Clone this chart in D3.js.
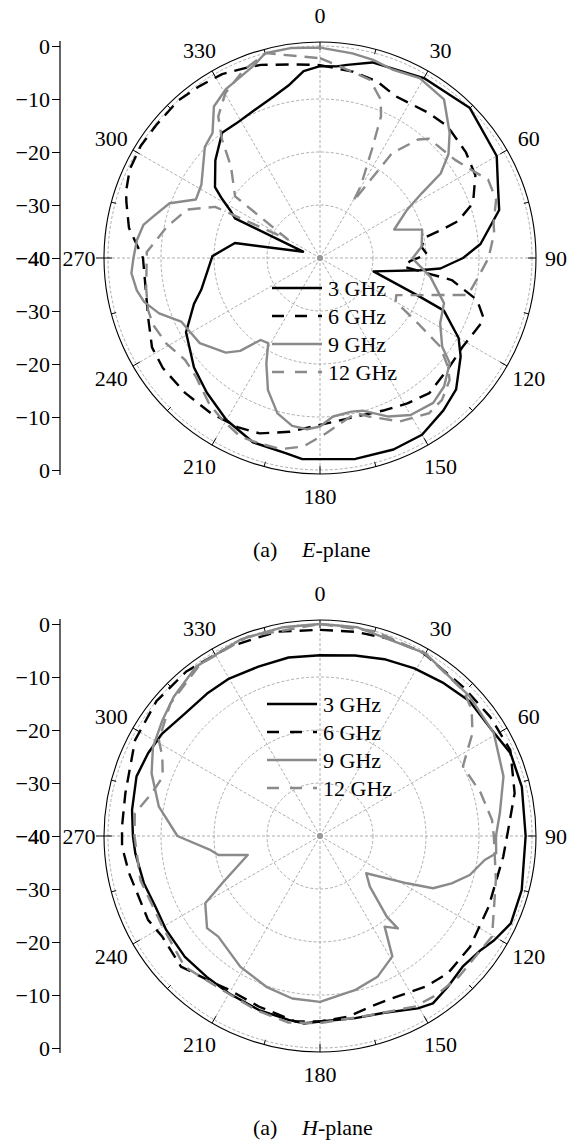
<!DOCTYPE html>
<html>
<head>
<meta charset="utf-8">
<script src="https://cdn.jsdelivr.net/npm/d3@7"></script>
<style>
  body { margin: 0; background: #fff; }
  text { font-family: "Liberation Serif", "Times New Roman", serif; }
</style>
</head>
<body>
<div class="chart"></div>
<script>
// radiation patterns, [angle (deg), gain (dB)]

// E-plane
var e3 = [[0,-3.8],[5,-3.7],[8,-3.2],[15,-1.8],[30,-0.8],[45,0],[60,-1.5],[69,-4],[75,-5],[85,-9.6],[90,-13],[95,-17.2],[97,-21],[104,-29.6],[111,-20.2],[113,-14.6],[120,-9.8],[125,-7.6],[134,-4.3],[141,-3],[150,-1.5],[159,-1.3],[170,-1.5],[185,-1.9],[190,-2.6],[200,-3],[210,-4.7],[220,-6.8],[229,-8.5],[241,-11.1],[250,-14.7],[255,-16.8],[271,-19.7],[280,-23.7],[290.5,-36.6],[295,-22.3],[298,-20.8],[301,-18.5],[304,-16.1],[313,-13],[322,-10],[328,-10.1],[336,-9.5],[344,-8.3],[350,-6.8],[355,-4.6]];
var e6 = [[0,-3.6],[10,-4.3],[18,-5],[25,-6.3],[37,-5.8],[44,-5.4],[54,-6],[62,-6.8],[69,-9],[71,-10],[75,-13],[77,-16.5],[79,-20],[84,-20.7],[88,-19.8],[92,-23],[96,-24],[99.5,-14.8],[105,-9.3],[110,-7.2],[112,-7.2],[122,-8.3],[130,-8.1],[141,-7.2],[149,-8],[157,-8.8],[168,-9.3],[180,-8.5],[190,-6.7],[199,-5],[206,-4.5],[215,-4.2],[225,-4],[235,-3.8],[242,-4.1],[251,-5.7],[260,-6.6],[270,-6.6],[279,-3.5],[286,-2],[289,-1.3],[295,-0.4],[302,-0.1],[309,-0.2],[318,0],[325,-0.4],[332,-0.7],[340,-1.6],[343,-1.9],[353,-3.2]];
var e9 = [[0,-0.3],[9,-0.9],[15,-1.3],[21,-1.9],[29,-1.2],[38,-2],[46,-6],[51,-8.8],[55,-12.2],[57.5,-17.2],[61,-21.2],[69,-25],[74.5,-20],[83.5,-20.7],[90,-22.5],[92,-22],[99.6,-18.9],[110,-15.1],[118.5,-14.2],[126,-11.5],[129,-8.5],[136,-6.3],[142,-5.3],[150,-5.8],[156.6,-7.4],[164.4,-10.1],[168.4,-10.4],[175.3,-10],[180,-8.2],[184.3,-7.6],[189.4,-7.9],[195.3,-9.6],[201.5,-13.2],[207,-17.7],[211.3,-21.2],[215.9,-20.9],[220.7,-16.9],[224.9,-14.8],[234.7,-12.2],[241.3,-11.7],[245.4,-11.2],[251,-7.9],[256,-5.8],[260,-4.9],[265.4,-4.3],[270,-4.8],[275.6,-5.3],[280.6,-6.1],[284,-7.6],[290,-9.8],[295.2,-14.1],[301.7,-13.7],[314,-9.8],[319.3,-8.9],[325,-5.1],[331,-3.5],[341,-1.6],[345,0],[352,0]];
var e12 = [[0,-2.3],[9.6,-4.3],[15.7,-5.1],[21,-8],[23.3,-10.9],[25.6,-17.4],[29.6,-24.5],[30.4,-27.6],[34.5,-16],[39.6,-11],[42.5,-9.5],[54,-8.5],[60.6,-6.7],[65,-5],[71.7,-5],[78.7,-6.6],[81.8,-6.8],[90,-8.2],[96.7,-9.9],[104,-11.2],[116,-24],[120,-23.5],[123.7,-17.8],[126.4,-11.8],[130.4,-8.3],[133.3,-6.4],[139.3,-4.7],[144.9,-4.2],[154,-5.7],[162.5,-8.6],[167,-10],[178,-6.9],[185,-4.3],[191.5,-3.2],[198.2,-3.2],[204,-3.1],[211,-4.3],[217.4,-5.5],[226.3,-7.6],[232.9,-8.1],[241,-6.8],[248,-6.1],[253.2,-6.1],[260,-6.7],[272,-7.3],[281.5,-10.5],[290,-13.3],[296,-18],[300,-33],[306,-20.2],[315.8,-15.9],[320.4,-11],[324.3,-7.1],[330.2,-4.1],[338,-1.7],[345.3,0],[349,-0.9]];

// H-plane
var h3 = [[0,-5.9],[11,-5.3],[20,-4.5],[29.4,-3.7],[39,-2.9],[48,-2],[58.4,-1.9],[66.5,-0.8],[76.3,-0.8],[90,-1.2],[105,-0.6],[114.6,-0.4],[120.9,-1.7],[125.3,-2.8],[132.5,-3.5],[139.7,-2.7],[146,-1.9],[150.4,-2.6],[160,-4.5],[169,-5],[180,-5],[185,-4.5],[189.7,-4.8],[199.3,-5.2],[210,-5.7],[218.8,-5.9],[228.2,-5.8],[238.6,-6],[246.8,-6.2],[255,-5.6],[264.6,-5],[270,-4.7],[277.9,-4.2],[288,-3.6],[295.7,-4],[303,-4.5],[312.3,-5.6],[321.6,-5.7],[330,-5.7],[340,-6],[350,-5.8]];
var h6 = [[0,-1.1],[9.7,-0.9],[19,-0.6],[29,-0.3],[44,-1],[55,-0.8],[65.7,-0.6],[77.6,-2.4],[90,-4.7],[96.4,-5.2],[112.8,-5.5],[126.4,-4.8],[137,-4.6],[145,-5.3],[156,-6.5],[163.7,-6.4],[171.3,-5.5],[180,-5],[187.4,-4.7],[199.6,-5.8],[210.5,-6.3],[216.8,-5.7],[226.8,-4],[237.4,-4.7],[244,-3.9],[259,-3.3],[266.9,-2.6],[272.7,-2.6],[282.4,-2.4],[297.4,-0.7],[309.5,0],[320.9,0],[334.4,-0.4],[348,-0.6]];
var h9 = [[0,0],[10,0],[30,-0.2],[47,-1.4],[59.4,-1.9],[72,-3.6],[82.8,-5.8],[90,-6.8],[95.6,-6.6],[98.3,-8.6],[104.6,-10.8],[109.8,-13.6],[114.8,-16.5],[118.5,-21.3],[128.9,-28.8],[135.4,-26.6],[140.4,-20.2],[139.9,-17.2],[144.5,-19],[149,-13.5],[157.8,-11.3],[167,-10.2],[180,-8.7],[189.7,-8.9],[199.6,-9.8],[211.3,-11.1],[225.3,-13],[230.8,-12.5],[239.6,-14.9],[244.2,-19.5],[255.3,-25.9],[259.4,-20.5],[263,-19],[270,-13.1],[280.3,-9.1],[290.4,-6.1],[298,-4.3],[306.4,-3.1],[313.6,-1.9],[323.8,-0.4],[338,0],[350,0]];
var h12 = [[0,0],[15,0],[30,-0.3],[45,-1.5],[50.3,-2.8],[56,-5.3],[64,-10],[75,-8.6],[84.7,-7.4],[90,-7.2],[104,-5.8],[120.3,-2.4],[125.3,-2.8],[135.4,-2.7],[143.7,-2.8],[151,-3.2],[164.4,-4.9],[180,-4.7],[189.6,-4.3],[200,-5],[212.5,-5.6],[226,-4.5],[240,-5.7],[256.2,-5.1],[270,-5],[277,-4.8],[284,-7.2],[290.6,-8.3],[296.7,-6.7],[300.8,-4.6],[311.5,-2.3],[325,-0.5],[340,0]];

var freqLabels = ["3 GHz", "6 GHz", "9 GHz", "12 GHz"];
var angleTicks = [0, 30, 60, 90, 120, 150, 180, 210, 240, 270, 300, 330];
var dbTicks = [-40, -30, -20, -10, 0];
var planeNames = ["E", "H"];

var width = 581;
var height = 1141;
var cx = 320;
var rOuter = 216;
var font = "'Liberation Serif', 'Times New Roman', serif";
var fs = "22px";

var plots = [
  { cy: 258, series: [e3, e6, e9, e12], legendX: 272, legendY: 288, captionY: 557 },
  { cy: 836, series: [h3, h6, h9, h12], legendX: 267, legendY: 704, captionY: 1135 }
];

var lineStyles = [
  { color: "#000", dash: null },
  { color: "#000", dash: "13,8" },
  { color: "#8a8a8a", dash: null },
  { color: "#8a8a8a", dash: "13,8" }
];

var aScale = d3.scaleLinear().domain([0, 360]).range([0, 2 * Math.PI]);
var rScale = d3.scaleLinear().domain([-40, 0]).range([0, 212]);

var svg = d3.select(".chart")
            .append("svg")
            .attr("width", width)
            .attr("height", height)
            .style("font-family", font);

svg.append("rect").attr("width", width).attr("height", height).attr("fill", "#fff");

plots.forEach(function(p, pi) {
  var g = svg.append("g").attr("transform", "translate(" + cx + "," + p.cy + ")");

  // grid circles
  g.selectAll("circle.grid")
   .data(dbTicks.slice(1))
   .enter()
   .append("circle")
   .attr("r", d => rScale(d))
   .attr("fill", "none")
   .attr("stroke", "#999")
   .attr("stroke-width", 0.8)
   .attr("stroke-dasharray", "3,2");

  // spokes
  g.selectAll("line.spoke")
   .data(angleTicks)
   .enter()
   .append("line")
   .attr("x2", d => rScale(0) * Math.sin(aScale(d)))
   .attr("y2", d => -rScale(0) * Math.cos(aScale(d)))
   .attr("stroke", "#999")
   .attr("stroke-width", 0.8)
   .attr("stroke-dasharray", "3,2");

  // outer frame + ticks
  g.append("circle")
   .attr("r", rOuter)
   .attr("fill", "none")
   .attr("stroke", "#000")
   .attr("stroke-width", 1.1);

  var tickAngles = d3.range(0, 360, 15);
  g.selectAll("line.tick")
   .data(tickAngles)
   .enter()
   .append("line")
   .attr("x1", d => (d % 30 ? 211 : 208) * Math.sin(aScale(d)))
   .attr("y1", d => -(d % 30 ? 211 : 208) * Math.cos(aScale(d)))
   .attr("x2", d => (d == 270 ? 224 : rOuter) * Math.sin(aScale(d)))
   .attr("y2", d => -(d == 270 ? 224 : rOuter) * Math.cos(aScale(d)))
   .attr("stroke", "#000")
   .attr("stroke-width", 1);

  g.append("circle").attr("r", 3).attr("fill", "#999");

  // angle labels
  g.selectAll("text.ang")
   .data(angleTicks)
   .enter()
   .append("text")
   .attr("x", d => (d == 90 ? 236 : 241) * Math.sin(aScale(d)))
   .attr("y", d => -(d == 0 ? 243 : d == 180 ? 238 : 240) * Math.cos(aScale(d)))
   .attr("dy", "0.35em")
   .attr("text-anchor", "middle")
   .style("font-size", fs)
   .style("font-family", font)
   .text(d => d);

  // curves
  var line = d3.lineRadial()
               .angle(d => aScale(d[0]))
               .radius(d => rScale(d[1]))
               .curve(d3.curveLinearClosed);

  p.series.forEach(function(s, i) {
    g.append("path")
     .attr("d", line(s))
     .attr("fill", "none")
     .attr("stroke", lineStyles[i].color)
     .attr("stroke-width", 2.4)
     .attr("stroke-linejoin", "round")
     .attr("stroke-dasharray", lineStyles[i].dash);
  });

  // legend
  var lg = svg.append("g");
  freqLabels.forEach(function(f, i) {
    var y = p.legendY + i * 28;
    lg.append("line")
      .attr("x1", p.legendX).attr("x2", p.legendX + 50)
      .attr("y1", y).attr("y2", y)
      .attr("stroke", lineStyles[i].color)
      .attr("stroke-width", 2.6)
      .attr("stroke-dasharray", lineStyles[i].dash ? "12,11" : null);
    lg.append("text")
      .attr("x", p.legendX + 56)
      .attr("y", y)
      .attr("dy", "0.35em")
      .style("font-size", fs)
      .style("font-family", font)
      .text(f);
  });

  // left dB axis, mirrored about the centre
  var yTop = d3.scaleLinear().domain([-40, 0]).range([p.cy, p.cy - 212]);
  var yBot = d3.scaleLinear().domain([-40, 0]).range([p.cy, p.cy + 212]);
  [yTop, yBot].forEach(function(sc) {
    svg.append("g")
       .attr("transform", "translate(60,0)")
       .call(d3.axisLeft(sc).tickValues(dbTicks).tickSize(8).tickPadding(2))
       .call(a => a.select(".domain").remove())
       .call(a => a.selectAll("text").style("font-size", fs).style("font-family", font).attr("fill", "#000"));
  });
  svg.append("line")
     .attr("x1", 60).attr("x2", 60)
     .attr("y1", p.cy - 217).attr("y2", p.cy + 217)
     .attr("stroke", "#000")
     .attr("stroke-width", 1.2);

  // caption
  var cap = svg.append("text")
               .attr("x", 253)
               .attr("y", p.captionY)
               .style("font-size", fs)
               .style("font-family", font);
  cap.append("tspan").text("(a)");
  cap.append("tspan").attr("x", 302).style("font-style", "italic").text(planeNames[pi]);
  cap.append("tspan").text("-plane");
});
</script>
</body>
</html>
